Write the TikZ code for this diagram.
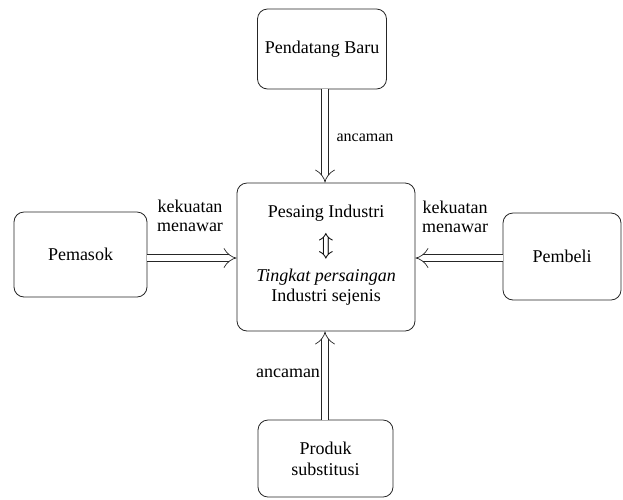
\documentclass[tikz,border=0pt]{standalone}
\usepackage{fontspec}
\setmainfont{Liberation Serif}
\usetikzlibrary{arrows.meta,calc}
\begin{document}
\begin{tikzpicture}[x=1pt,y=-1pt,
  box/.style={draw=black!85,line width=0.8pt,rounded corners=10pt,inner sep=0pt,font=\fontsize{18}{21}\selectfont,align=center},
  dbl/.style={draw=black!85,line width=0.7pt,double=white,double distance=6.5pt,-{Implies}},
  lbl/.style={font=\fontsize{18}{19}\selectfont,inner sep=0pt,align=center}]
\useasboundingbox (0,0) rectangle (623,499);
\node[box,minimum width=129pt,minimum height=80pt] (top) at (322,49) {Pendatang Baru};
\node[box,minimum width=178pt,minimum height=148pt] (center) at (326,257) {};
\node[box,minimum width=133pt,minimum height=85pt] (left) at (80.5,254.5) {Pemasok};
\node[box,minimum width=118pt,minimum height=87pt] (right) at (562,256.5) {Pembeli};
\node[box,minimum width=135pt,minimum height=77pt] (bottom) at (325.5,458.5) {Produk\\substitusi};
\node[lbl] (t1) at (326,213) {Pesaing Industri};
\node[lbl,font=\fontsize{29}{29}\selectfont] (t2) at (326,246) {$\Updownarrow$};
\node[lbl] (t3) at (326,277) {\itshape Tingkat persaingan};
\node[lbl] (t4) at (326,297) {Industri sejenis};
\coordinate (tc) at (325,0);
\draw[dbl] (top.south -| tc) -- (center.north -| tc);
\draw[dbl] (bottom.north -| tc) -- (center.south -| tc);
\coordinate (mc) at (0,258);
\draw[dbl] (left.east |- mc) -- (center.west |- mc);
\draw[dbl] (right.west |- mc) -- (center.east |- mc);
\node[lbl,font=\fontsize{16}{17}\selectfont] (a1) at (365,138) {ancaman};
\node[lbl] (a2) at (288,373) {ancaman};
\node[lbl] (k1) at (190,216) {kekuatan\\menawar};
\node[lbl] (k2) at (455,217) {kekuatan\\menawar};
\end{tikzpicture}
\end{document}
